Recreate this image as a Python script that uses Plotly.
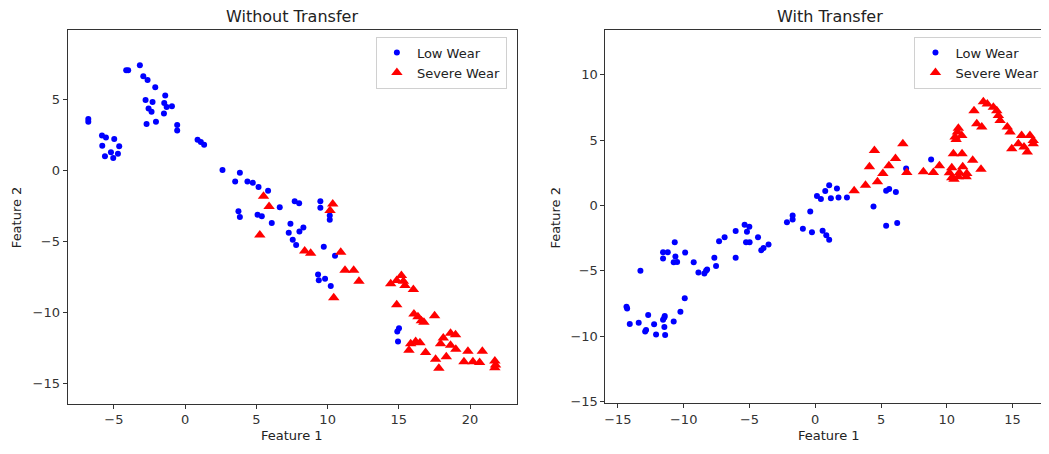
import plotly.graph_objects as go

# ---- Left panel: Without Transfer ----
wo_low_x = [-6.8, -6.8, -5.84, -5.56, -4.98, -5.82, -4.63, -5.21, -4.72, -5.63, -5.05,
            -4.14, -4.0, -3.18, -2.94, -2.64, -2.10, -1.40, -2.78, -2.29, -1.47, -1.30,
            -0.93, -2.57, -2.36, -1.49, -2.71, -2.05, -0.56, -0.56, 0.87, 1.10, 1.33,
            2.62, 3.84, 3.51, 4.37, 4.75, 5.15, 5.82, 3.74, 3.84, 5.08, 5.38, 6.08, 6.64,
            7.69, 8.0, 7.39, 8.30, 8.02, 7.27, 7.55, 7.79, 9.49, 9.49, 10.15, 10.15, 9.73,
            10.52, 9.33, 9.38, 9.82, 10.22, 15.01, 14.89, 14.94]
wo_low_y = [3.6, 3.4, 2.43, 2.29, 2.19, 1.71, 1.67, 1.25, 1.15, 0.97, 0.85,
            7.03, 7.03, 7.38, 6.6, 6.34, 5.83, 5.25, 4.93, 4.79, 4.72, 4.44,
            4.49, 4.33, 4.10, 3.98, 3.24, 3.40, 3.17, 2.78, 2.13, 1.97, 1.78,
            0.0, -0.19, -0.81, -0.81, -0.90, -1.2, -1.46, -2.90, -3.31, -3.15, -3.26, -3.73, -2.62,
            -2.20, -2.34, -3.78, -4.05, -4.33, -4.42, -4.91, -5.28, -2.20, -2.66, -3.20, -3.5, -5.40,
            -6.04, -7.36, -7.76, -7.66, -8.17, -11.14, -11.37, -12.06]
wo_sev_x = [5.50, 5.89, 5.24, 10.36, 10.17, 8.39, 8.81, 10.92, 11.22, 11.83, 12.20, 10.43,
            14.43, 14.85, 15.18, 15.32, 15.43, 16.02, 14.85, 16.06, 16.34, 16.58, 16.76, 17.51,
            18.63, 18.98, 18.12, 17.93, 18.63, 19.0, 15.83, 16.18, 16.48, 15.71, 16.88, 17.58,
            17.81, 18.33, 19.85, 19.57, 20.20, 20.67, 20.86, 21.74, 21.79, 21.74]
wo_sev_y = [-1.85, -2.57, -4.58, -2.39, -2.85, -5.69, -5.86, -5.79, -7.06, -7.06, -7.83, -8.99,
            -8.01, -7.78, -7.43, -7.83, -8.13, -8.40, -9.49, -10.14, -10.33, -10.60, -10.72, -10.26,
            -11.49, -11.60, -11.83, -12.22, -12.34, -12.62, -12.22, -12.06, -12.15, -12.69, -12.85, -13.31,
            -13.96, -13.15, -12.76, -13.50, -13.50, -13.54, -12.76, -13.45, -13.73, -13.92]

# ---- Right panel: With Transfer ----
w_low_x = [-14.35, -14.30, -14.10, -13.29, -13.42, -12.70, -12.93, -12.86, -12.25, -12.10,
           -11.57, -11.47, -11.44, -11.47, -11.41, -10.76, -10.25, -9.92, -11.57, -11.21,
           -11.57, -10.68, -10.63, -10.76, -10.50, -9.89, -9.24, -8.88, -8.43, -8.30, -8.22,
           -7.67, -7.54, -7.31, -6.89, -6.05, -6.05, -5.37, -5.19, -5.01, -5.26, -4.99, -4.35,
           -4.10, -3.93, -3.55, -2.15, -1.72, -1.72, -0.94, -0.38, -0.25, 0.56, 0.84, 1.06,
           0.13, 0.43, 0.76, 1.06, 1.19, 1.65, 1.77, 2.41, 4.43, 5.39, 5.62, 6.13, 5.39, 6.23,
           6.91, 8.81]
w_low_y = [-7.75, -7.87, -9.07, -4.99, -8.96, -8.38, -9.64, -9.52, -9.09, -9.87,
           -8.73, -8.56, -8.46, -9.29, -9.90, -8.88, -8.12, -7.09, -3.57, -3.57,
           -4.05, -2.81, -3.90, -4.33, -4.31, -3.60, -4.33, -5.12, -5.19, -4.99, -4.89,
           -4.00, -4.63, -2.74, -2.43, -1.95, -4.00, -1.47, -2.0, -1.62, -2.81, -2.81, -2.43,
           -3.42, -3.24, -2.99, -1.27, -0.76, -1.06, -1.78, -0.46, -2.05, -1.93, -2.28, -2.61,
           0.73, 0.50, 1.11, 1.56, 0.55, 1.31, 0.61, 0.61, -0.08, 1.14, 1.26, 1.03, -1.55, -1.34,
           2.83, 3.52]
w_sev_x = [2.96, 3.82, 4.73, 5.14, 5.60, 6.10, 4.12, 4.50, 6.66, 6.96, 8.22, 8.98, 9.44,
           10.20, 10.38, 10.38, 10.55, 10.88, 10.96, 11.21, 11.52, 11.47, 10.50, 11.16, 11.97,
           12.60, 10.63, 10.81, 10.88, 10.71, 11.14, 12.07, 12.28, 12.66, 12.78, 13.08, 13.54,
           13.80, 13.92, 14.05, 14.60, 14.81, 14.94, 15.44, 15.69, 15.87, 16.12, 16.32, 16.57, 16.57]
w_sev_y = [1.14, 1.56, 1.82, 2.45, 3.04, 3.59, 2.96, 4.22, 4.73, 2.53, 2.58, 2.53, 3.04,
           2.51, 2.89, 2.13, 2.02, 2.20, 2.51, 2.96, 2.45, 2.20, 3.97, 3.97, 3.46,
           2.78, 5.24, 5.62, 5.92, 5.06, 5.36, 7.26, 6.25, 6.0, 7.94, 7.77, 7.52,
           7.26, 6.88, 6.50, 6.0, 5.62, 4.35, 4.73, 5.36, 4.48, 4.10, 5.36, 4.98, 4.73]

BLUE = "#0000ff"
RED = "#ff0000"
FONT = "DejaVu Sans"
OFF = 8            # page body margin of the browser
W, H = 1049 - OFF, 454 - OFF

fig = go.Figure()
fig.add_trace(go.Scatter(x=wo_low_x, y=wo_low_y, mode="markers", name="Low Wear",
                         marker=dict(color=BLUE, size=6, symbol="circle"),
                         xaxis="x", yaxis="y", legend="legend"))
fig.add_trace(go.Scatter(x=wo_sev_x, y=wo_sev_y, mode="markers", name="Severe Wear",
                         marker=dict(color=RED, size=10, symbol="triangle-up"),
                         xaxis="x", yaxis="y", legend="legend"))
fig.add_trace(go.Scatter(x=w_low_x, y=w_low_y, mode="markers", name="Low Wear",
                         marker=dict(color=BLUE, size=6, symbol="circle"),
                         xaxis="x2", yaxis="y2", legend="legend2"))
fig.add_trace(go.Scatter(x=w_sev_x, y=w_sev_y, mode="markers", name="Severe Wear",
                         marker=dict(color=RED, size=10, symbol="triangle-up"),
                         xaxis="x2", yaxis="y2", legend="legend2"))

def px(v):
    return (v - OFF) / W

def py(v):
    return 1 - (v - OFF) / H

axis_common = dict(showgrid=False, zeroline=False, showline=True, linecolor="#333333",
                   linewidth=1, ticks="outside", ticklen=4, tickcolor="#333333",
                   tickfont=dict(family=FONT, size=13, color="#333333"), dtick=5)

leg_common = dict(xanchor="center", yanchor="top", bgcolor="rgba(255,255,255,0.8)",
                  bordercolor="#d0d0d0", borderwidth=1,
                  font=dict(family=FONT, size=13, color="#222222"))

fig.update_layout(
    width=W, height=H,
    margin=dict(l=0, r=0, t=0, b=0),
    plot_bgcolor="white", paper_bgcolor="white",
    xaxis=dict(domain=[px(66.7), px(516)], range=[-8.25, 23.26], mirror=True,
               anchor="y", tick0=0, **axis_common),
    yaxis=dict(domain=[py(409), py(30.7)], range=[-16.44, 9.83], mirror=True,
               anchor="x", tick0=0, **axis_common),
    xaxis2=dict(domain=[px(605), 1.0], range=[-15.95, 17.77], mirror=True,
                anchor="y2", tick0=0, **axis_common),
    yaxis2=dict(domain=[py(408.3), py(30.7)], range=[-15.1, 13.4], mirror=False,
                anchor="x2", tick0=0, **axis_common),
    legend=dict(x=px(440.8), y=py(37), **leg_common),
    legend2=dict(x=px(979.9), y=py(37), **leg_common),
)

ann_font = dict(family=FONT, size=13, color="#222222")
title_font = dict(family=FONT, size=16, color="#222222")
fig.add_annotation(text="Without Transfer", x=px(291.4), y=py(17), xref="paper", yref="paper",
                   showarrow=False, font=title_font, xanchor="center", yanchor="middle")
fig.add_annotation(text="With Transfer", x=px(830), y=py(17), xref="paper", yref="paper",
                   showarrow=False, font=title_font, xanchor="center", yanchor="middle")
fig.add_annotation(text="Feature 1", x=px(291.4), y=py(441), xref="paper", yref="paper",
                   showarrow=False, font=ann_font, xanchor="center", yanchor="middle")
fig.add_annotation(text="Feature 1", x=px(829), y=py(441), xref="paper", yref="paper",
                   showarrow=False, font=ann_font, xanchor="center", yanchor="middle")
fig.add_annotation(text="Feature 2", x=px(15), y=py(220), xref="paper", yref="paper",
                   showarrow=False, font=ann_font, textangle=-90, xanchor="center", yanchor="middle")
fig.add_annotation(text="Feature 2", x=px(555), y=py(220), xref="paper", yref="paper",
                   showarrow=False, font=ann_font, textangle=-90, xanchor="center", yanchor="middle")

fig.write_html("out.html")
